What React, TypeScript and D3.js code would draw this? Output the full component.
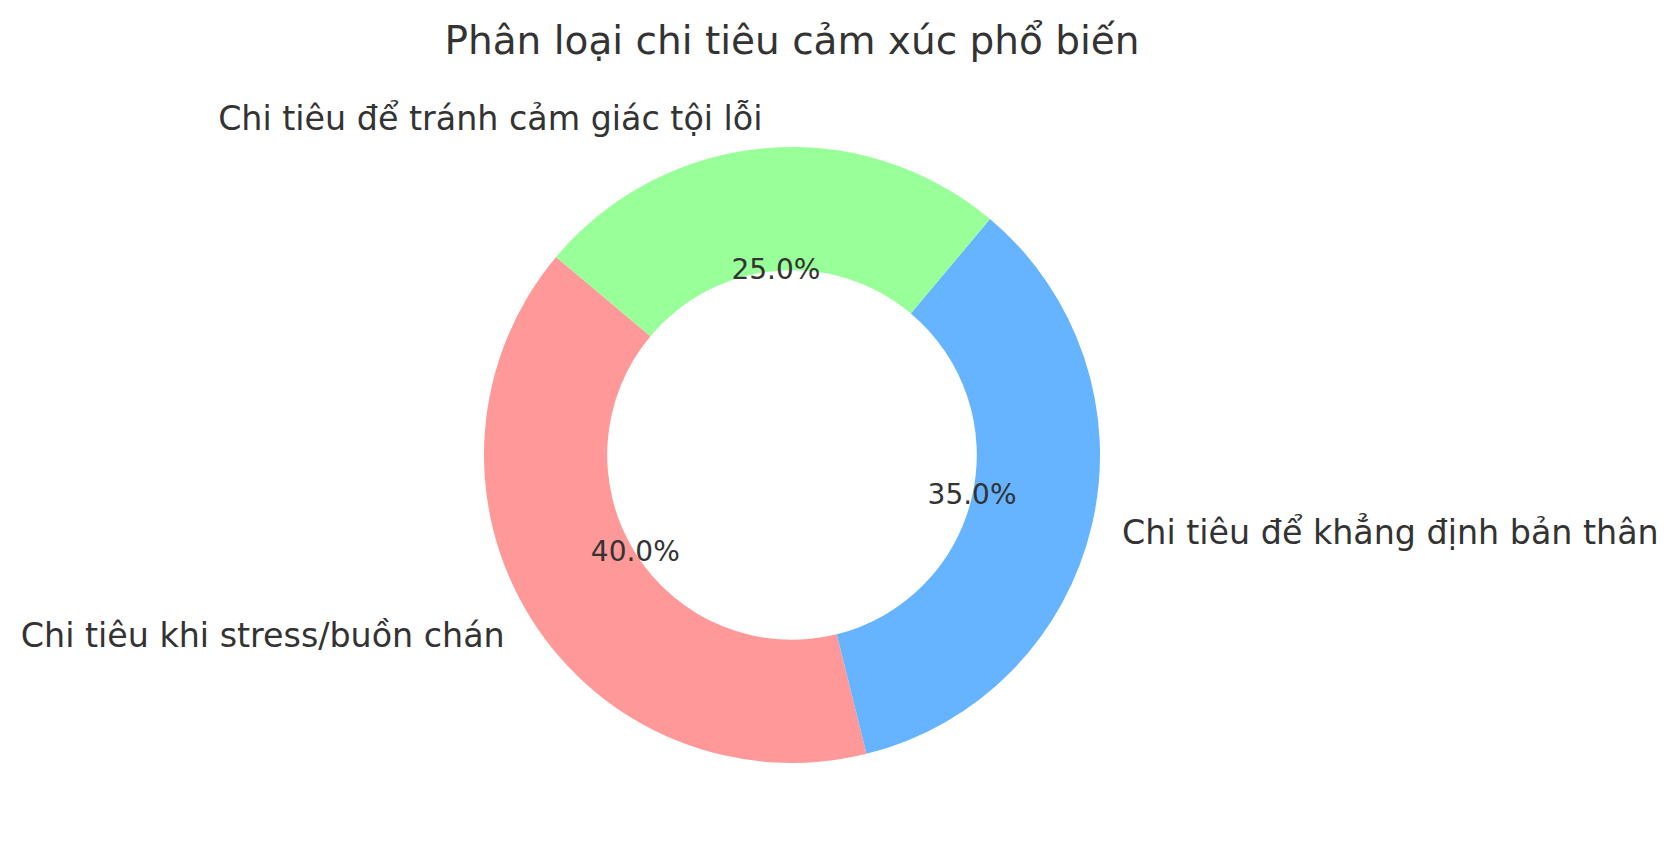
import React from 'react';
import * as d3 from 'd3';

const categories = [
  'Chi tiêu khi stress/buồn chán',
  'Chi tiêu để khẳng định bản thân',
  'Chi tiêu để tránh cảm giác tội lỗi',
];
const shares = [40, 35, 25];
const sliceColors = ['#ff9999', '#66b3ff', '#99ff99'];
const chartTitle = 'Phân loại chi tiêu cảm xúc phổ biến';

const W = 1679, H = 860;
const FONT = '"DejaVu Sans", sans-serif';
const TEXT = '#333333';

export default function App() {
  const cx = 792, cy = 455;
  const R = 308;
  const inner = R * 0.6;

  // matplotlib startangle=140, counter-clockwise -> d3 angles (clockwise from 12 o'clock)
  const start = (-50 * Math.PI) / 180;
  const pie = d3.pie<number>().sort(null).startAngle(start).endAngle(start - 2 * Math.PI);
  const arcs = pie(shares);
  const arc = d3.arc<d3.PieArcDatum<number>>().innerRadius(inner).outerRadius(R);
  const total = d3.sum(shares);

  return (
    <svg width={W} height={H} style={{ position: 'absolute', left: 0, top: 0, background: '#fff' }}>
      <text x={cx} y={53.5} textAnchor="middle" fontFamily={FONT} fontSize={39} fill={TEXT}>
        {chartTitle}
      </text>
      <g transform={`translate(${cx},${cy})`}>
        {arcs.map((a, i) => (
          <path key={i} d={arc(a) || ''} fill={sliceColors[i]} />
        ))}
        {arcs.map((a, i) => {
          const mid = (a.startAngle + a.endAngle) / 2;
          const lx = 1.1 * R * Math.sin(mid);
          const ly = -1.1 * R * Math.cos(mid);
          const px = 0.6 * R * Math.sin(mid);
          const py = -0.6 * R * Math.cos(mid);
          return (
            <g key={'t' + i}>
              <text x={lx} y={ly} dy="0.375em" textAnchor={lx < 0 ? 'end' : 'start'}
                fontFamily={FONT} fontSize={33.3} fill={TEXT}>
                {categories[i]}
              </text>
              <text x={px} y={py} dy="0.28em" textAnchor="middle"
                fontFamily={FONT} fontSize={28} fill={TEXT}>
                {((a.data / total) * 100).toFixed(1) + '%'}
              </text>
            </g>
          );
        })}
      </g>
    </svg>
  );
}
